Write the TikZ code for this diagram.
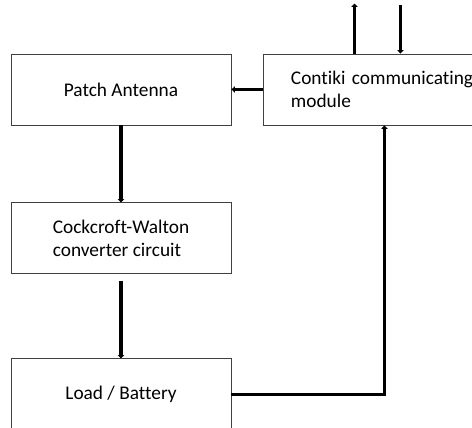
\documentclass[tikz,border=0pt]{standalone}
\usepackage{fontspec}
\setmainfont{Carlito}[Ligatures=NoCommon]
\usetikzlibrary{arrows.meta, positioning, calc}

\begin{document}
\begin{tikzpicture}[
    x=0.03cm, y=-0.03cm,
    blk/.style={rectangle, draw=black!75, line width=0.8pt, minimum width=6.6cm,
                minimum height=2.13cm, align=left, font=\fontsize{16.5}{19.5}\selectfont},
    arrow/.style={-{Triangle[length=1mm, width=1.9mm]}, line width=2.8pt},
    node distance=0.96cm
  ]
    \useasboundingbox (0,0) rectangle (472,428);

    % Blocks
    \node[blk] (patch) at (121,89.5) {Patch Antenna};
    \node[blk, below=2.31cm of patch] (cw) {Cockcroft-Walton\\converter circuit};
    \node[blk, below=2.52cm of cw] (load) {Load / Battery};
    \node[blk, right=of patch, text width=5.6cm, inner xsep=0.81cm,
          minimum width=0pt] (contiki) {Contiki communicating\\module};

    % Free ends
    \coordinate (up) at ([xshift=2.73cm, yshift=1.5cm]contiki.north west);
    \coordinate (dn) at ([xshift=4.11cm, yshift=1.47cm]contiki.north west);

    % Arrows
    \draw[arrow] (patch.south) -- (cw.north);
    \draw[arrow] ([yshift=-0.21cm]cw.south) -- (load.north);
    \draw[arrow] (contiki.west) -- (patch.east);
    \draw[arrow] (load.east) -| ([xshift=3.63cm]contiki.south west);
    \draw[arrow] (contiki.north west -| up) -- (up);
    \draw[arrow] (dn) -- (contiki.north west -| dn);
\end{tikzpicture}
\end{document}
